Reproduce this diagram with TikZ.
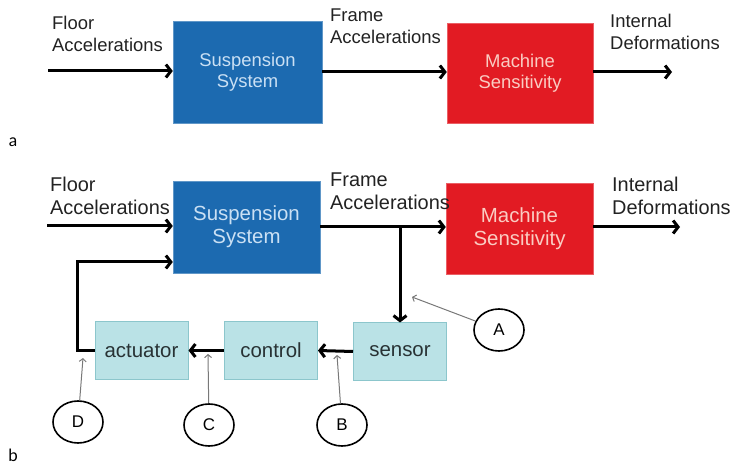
\documentclass[tikz,border=0pt]{standalone}
\usepackage{fontspec}
\setmainfont{Liberation Sans}
\newfontfamily\partfont{Lato}
\usetikzlibrary{arrows.meta, shapes.geometric}

\definecolor{suspblue}{RGB}{28,106,176}
\definecolor{susptext}{RGB}{202,224,244}
\definecolor{machred}{RGB}{226,27,35}
\definecolor{machtext}{RGB}{250,204,194}
\definecolor{loopfill}{RGB}{186,226,230}
\definecolor{loopedge}{RGB}{140,198,204}
\definecolor{looptext}{RGB}{40,50,52}
\definecolor{inktext}{RGB}{34,34,34}
\definecolor{pointgray}{RGB}{120,120,120}

\tikzset{
    signal/.style={line width=3bp, -{Straight Barb[length=5bp, width=13bp]}},
    pointer/.style={pointgray, line width=1bp, -{Straight Barb[length=3bp, width=7bp]}},
    bigbox/.style={rectangle, inner sep=0pt, align=center,
        font=\fontsize{18.5}{21}\selectfont},
    suspbox/.style={bigbox, fill=suspblue, draw=suspblue!70!white, text=susptext},
    machbox/.style={bigbox, fill=machred, draw=machred!70!white, text=machtext},
    loopbox/.style={rectangle, inner sep=0pt, fill=loopfill, draw=loopedge, line width=1bp,
        text=looptext, minimum width=93bp, minimum height=57bp,
        font=\fontsize{20.5}{24}\selectfont},
    sigtext/.style={anchor=base west, inner sep=0pt, align=left, text=inktext,
        font=\fontsize{18.5}{23}\selectfont},
    tag/.style={ellipse, draw, line width=1.6bp, minimum width=50bp, minimum height=42bp,
        inner sep=0pt, font=\fontsize{17}{20}\selectfont},
    partlabel/.style={inner sep=0pt, font=\partfont\fontsize{17}{20}\selectfont}
}

\begin{document}
\begin{tikzpicture}[x=1bp, y=-1bp]
    \useasboundingbox (0,0) rectangle (743,467);

    % (a) open chain
    \node[suspbox, minimum width=149bp, minimum height=102bp] (susA) at (247.5,72) {Suspension\\System};
    \node[machbox, minimum width=146bp, minimum height=100bp] (macA) at (520,73) {Machine\\Sensitivity};
    \coordinate (inA) at (48,71);
    \coordinate (outA) at (672,72);

    \draw[signal] (inA) -- (inA -| susA.west);
    \draw[signal] (susA.east |- outA) -- (macA.west |- outA);
    \draw[signal] (macA.east |- outA) -- (outA);

    % base west sits on the second line
    \node[sigtext] (floorA) at (52,52) {Floor\\Accelerations};
    \node[sigtext] (frameA) at (330,44) {Frame\\Accelerations};
    \node[sigtext] (intA) at (610,50) {Internal\\Deformations};

    \node[partlabel] (partA) at (13,142) {a};

    % (b) with the active loop, set a size larger
    \begin{scope}[bigbox/.append style={font=\fontsize{20.5}{23}\selectfont},
                  sigtext/.append style={font=\fontsize{20}{24}\selectfont}]
    \node[suspbox, minimum width=147bp, minimum height=92bp] (susB) at (246.5,227) {Suspension\\System};
    \node[machbox, minimum width=147bp, minimum height=91bp] (macB) at (519.5,228.5) {Machine\\Sensitivity};
    \coordinate (inB) at (47,226);
    \coordinate (outB) at (680,227);
    \coordinate (tap) at (400,227);

    \draw[signal] (inB) -- (inB -| susB.west);
    \draw[signal] (susB.east |- tap) -- (macB.west |- tap);
    \draw[signal] (macB.east |- outB) -- (outB);

    \node[sigtext] (floorB) at (50,215) {Floor\\Accelerations};
    \node[sigtext] (frameB) at (330,210) {Frame\\Accelerations};
    \node[sigtext] (intB) at (612,215) {Internal\\Deformations};
    \end{scope}

    \node[loopbox] (sensor) at (400,351.5) {sensor};
    \node[loopbox] (control) at (271,350.5) {control};
    \node[loopbox] (actuator) at (141.5,350.5) {actuator};

    \draw[signal] (tap) -- (sensor.north);
    \draw[signal] (sensor.west) -- (control.east);
    \draw[signal] (control.west) -- (actuator.east);

    % feedback into the suspension
    \coordinate (fbturn) at (77,262);
    \draw[signal] (actuator.west) -| (fbturn) -- (fbturn -| susB.west);

    % lettered call-outs
    \node[tag] (tagA) at (499,330) {A};
    \node[tag] (tagB) at (342,425) {B};
    \node[tag] (tagC) at (209,425) {C};
    \node[tag] (tagD) at (78,422) {D};

    \coordinate (ptA) at (412,297);
    \coordinate (ptB) at (337,355);
    \coordinate (ptC) at (208,354);
    \coordinate (ptD) at (83,358);

    \draw[pointer] (tagA) -- (ptA);
    \draw[pointer] (tagB) -- (ptB);
    \draw[pointer] (tagC) -- (ptC);
    \draw[pointer] (tagD) -- (ptD);

    \node[partlabel] (partB) at (13,455) {b};
\end{tikzpicture}
\end{document}
